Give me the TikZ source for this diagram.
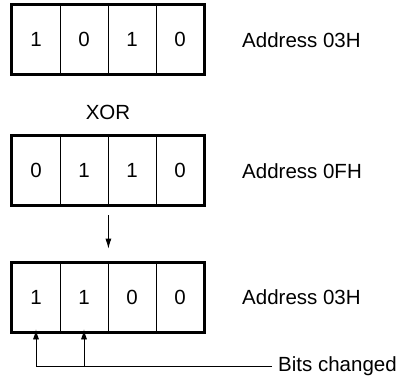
\documentclass[tikz,border=0pt]{standalone}
\usepackage{fontspec}
\setmainfont{Liberation Sans}
\usetikzlibrary{arrows.meta}
\begin{document}
\begin{tikzpicture}[x=1pt,y=-1pt,
  cell/.style={draw,line width=0.8pt,minimum width=48pt,minimum height=69pt,inner sep=0pt,anchor=center,font=\fontsize{20.5}{22}\selectfont},
  lbl/.style={anchor=west,inner sep=0pt,font=\fontsize{20.5}{22}\selectfont},
  outer/.style={draw,line width=2.6pt},
  arr/.style={line width=0.8pt,-{Latex[length=10pt,width=6pt]}}]
\useasboundingbox (0,0) rectangle (409,378);
% row 1
\node[cell] (a1) at (36,39.5) {1};
\node[cell] (a2) at (84,39.5) {0};
\node[cell] (a3) at (132,39.5) {1};
\node[cell] (a4) at (180,39.5) {0};
\draw[outer] (a1.north west) rectangle (a4.south east);
\node[lbl] (la) at (242,40) {Address 03H};
\node[inner sep=0pt,font=\fontsize{20.5}{22}\selectfont] (xor) at (108,112) {XOR};
% row 2
\node[cell] (b1) at (36,170.5) {0};
\node[cell] (b2) at (84,170.5) {1};
\node[cell] (b3) at (132,170.5) {1};
\node[cell] (b4) at (180,170.5) {0};
\draw[outer] (b1.north west) rectangle (b4.south east);
\node[lbl] (lb) at (242,171) {Address 0FH};
% row 3
\node[cell] (c1) at (36,297.5) {1};
\node[cell] (c2) at (84,297.5) {1};
\node[cell] (c3) at (132,297.5) {0};
\node[cell] (c4) at (180,297.5) {0};
\draw[outer] (c1.north west) rectangle (c4.south east);
\node[lbl] (lc) at (242,297) {Address 03H};
% arrow between rows 2 and 3
\coordinate (s) at ([yshift=-10pt]b2.south east);
\coordinate (e) at ([yshift=14pt]c2.north east);
\draw[arr] (s) -- (e);
% bits changed
\node[lbl] (bc) at (278,366) {Bits changed};
\coordinate (k) at (c1.south |- bc.west);
\draw[line width=0.8pt] ([xshift=-6pt]bc.west) -- (k);
\draw[arr] (k) -- ([yshift=3pt]c1.south);
\draw[arr] (c2.south |- bc.west) -- ([yshift=3pt]c2.south);
\end{tikzpicture}
\end{document}
